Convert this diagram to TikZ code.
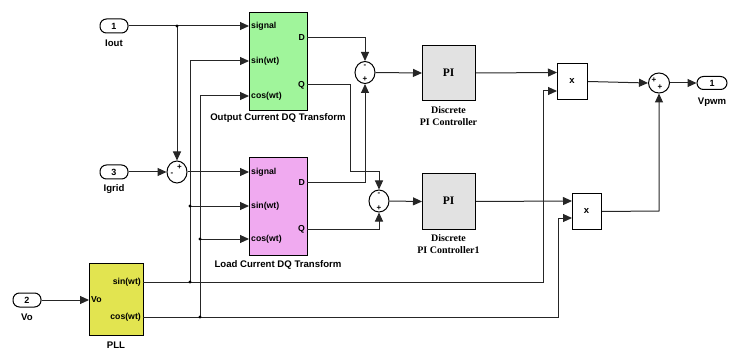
\documentclass[tikz,border=0pt]{standalone}
\usepackage{fontspec}
\setmainfont{Liberation Sans}
\newfontfamily\serifb{Liberation Serif}
\usetikzlibrary{arrows.meta,shapes.geometric,calc}
\definecolor{dqgreen}{RGB}{160,245,155}
\definecolor{dqpink}{RGB}{240,170,240}
\definecolor{pllyellow}{RGB}{226,228,80}
\definecolor{pigray}{RGB}{226,226,226}
\begin{document}
\begin{tikzpicture}[x=1pt,y=-1pt,
 wire/.style={line width=1pt, draw=black!85},
 arr/.style={wire,-{Triangle[length=9pt,width=8pt]}},
 blk/.style={draw, line width=1pt, anchor=north west, inner sep=0},
 port/.style={draw, line width=1pt, rounded corners=6.5pt, minimum width=28pt, minimum height=14pt, inner sep=0, font=\fontsize{9}{10}\selectfont\bfseries},
 sumb/.style={draw, line width=1pt, ellipse, minimum width=20pt, minimum height=22pt, inner sep=0},
 lbl/.style={font=\fontsize{8.7}{10}\selectfont\bfseries, inner sep=1pt},
 blbl/.style={font=\fontsize{9.6}{11}\selectfont\bfseries, inner sep=1pt},
 sgn/.style={font=\fontsize{8}{8}\selectfont\bfseries, inner sep=0},
 jdot/.style={circle, fill, inner sep=0, minimum size=3.2pt},
 pilbl/.style={font=\serifb\fontsize{10}{12.5}\selectfont\bfseries, align=center, inner sep=0}
]
\useasboundingbox (0,0) rectangle (734,350);

% inports / outport
\node[port] (in1) at (114,26) {1};
\node[blbl] (in1l) at (114,43) {Iout};
\node[port] (in3) at (114,172) {3};
\node[blbl] (in3l) at (114,189) {Igrid};
\node[port] (in2) at (27,300) {2};
\node[blbl] (in2l) at (27,317) {Vo};
\node[port, minimum width=30pt, minimum height=13pt] (out1) at (712,83) {1};
\node[blbl] (out1l) at (712,102) {Vpwm};

% DQ transforms
\node[blk, fill=dqgreen, minimum width=58pt, minimum height=98pt] (dq1) at (249,12) {};
\node[lbl, anchor=west] (dq1a) at (250,26) {signal};
\node[lbl, anchor=west] (dq1b) at (250,61) {sin(wt)};
\node[lbl, anchor=west] (dq1c) at (250,96) {cos(wt)};
\node[lbl, anchor=east] (dq1d) at (306,38) {D};
\node[lbl, anchor=east] (dq1e) at (306,85) {Q};
\node[blbl] (dq1l) at (278,118) {Output Current DQ Transform};

\node[blk, fill=dqpink, minimum width=58pt, minimum height=98pt] (dq2) at (249,157) {};
\node[lbl, anchor=west] (dq2a) at (250,172) {signal};
\node[lbl, anchor=west] (dq2b) at (250,206) {sin(wt)};
\node[lbl, anchor=west] (dq2c) at (250,239) {cos(wt)};
\node[lbl, anchor=east] (dq2d) at (306,183) {D};
\node[lbl, anchor=east] (dq2e) at (306,229) {Q};
\node[blbl] (dq2l) at (278,265) {Load Current DQ Transform};

% PLL
\node[blk, fill=pllyellow, minimum width=54pt, minimum height=72pt] (pll) at (89,263) {};
\node[lbl, anchor=west] (pllv) at (90,300) {Vo};
\node[lbl, anchor=east] (plls) at (142,282) {sin(wt)};
\node[lbl, anchor=east] (pllc) at (142,317) {cos(wt)};
\node[blbl] (plll) at (116,345) {PLL};

% PI controllers
\node[blk, fill=pigray, minimum width=53pt, minimum height=55pt] (pi1) at (422,45) {};
\node[font=\serifb\fontsize{11.5}{12}\selectfont\bfseries] (pi1t) at (448.5,72.5) {PI};
\node[pilbl] (pi1l) at (448.5,116) {Discrete\\PI Controller};
\node[blk, fill=pigray, minimum width=53pt, minimum height=56pt] (pi2) at (422,173) {};
\node[font=\serifb\fontsize{11.5}{12}\selectfont\bfseries] (pi2t) at (448.5,201) {PI};
\node[pilbl] (pi2l) at (448.5,244) {Discrete\\PI Controller1};

% products
\node[blk, fill=white, minimum width=30pt, minimum height=36pt] (pr1) at (557,63) {};
\node[font=\fontsize{9.5}{9}\selectfont\bfseries] (pr1t) at (572,81) {x};
\node[blk, fill=white, minimum width=29pt, minimum height=36pt] (pr2) at (572,193) {};
\node[font=\fontsize{9.5}{9}\selectfont\bfseries] (pr2t) at (586.5,211) {x};

% sums
\node[sumb] (s0) at (177,172) {};
\node[sgn] (s0a) at (172,174) {-};
\node[sgn] (s0b) at (179.5,167) {+};
\node[sumb] (s1) at (365,72.5) {};
\node[sgn] (s1a) at (365,66) {-};
\node[sgn] (s1b) at (365,79.5) {+};
\node[sumb] (s2) at (379,201) {};
\node[sgn] (s2a) at (379,194.5) {-};
\node[sgn] (s2b) at (379,208) {+};
\node[sumb, minimum width=21pt, minimum height=20pt] (s3) at (659,83) {};
\node[sgn] (s3a) at (654,80) {+};
\node[sgn] (s3b) at (660,87.5) {+};

% junction coordinates
\coordinate (j1) at (177,26);
\coordinate (j2) at (190,282);
\coordinate (j3) at (190,206);
\coordinate (j4) at (200,317);
\coordinate (j5) at (200,239);

% wires
\draw[arr] (in1.east) -- (249,26);
\draw[arr] (j1) -- (s0.north);
\draw[arr] (in3.east) -- (s0.west);
\draw[arr] (s0.east) -- (249,172);
\draw[arr] (in2.east) -- (89,300);

\draw[arr] (143,282) -- (543,282) -- (543,91) -- (557,91);
\draw[arr] (143,317) -- (558,317) -- (558,218) -- (572,218);
\draw[arr] (j2) -- (190,61) -- (249,61);
\draw[arr] (j3) -- (249,206);
\draw[arr] (j4) -- (200,96) -- (249,96);
\draw[arr] (j5) -- (249,239);

\draw[arr] (307,38) -- (365,38) -- (s1.north);
\draw[arr] (307,85) -- (350,85) -- (350,172) -- (379,172) -- (s2.north);
\draw[arr] (307,183) -- (365,183) -- (s1.south);
\draw[arr] (307,229) -- (379,229) -- (s2.south);

\draw[arr] (s1.east) -- (pi1.west);
\draw[arr] (s2.east) -- (pi2.west);
\draw[arr] (pi1.east) -- (557,72.5);
\draw[arr] (pi2.east) -- (572,201);
\draw[arr] (pr1.east) -- (s3.west);
\draw[arr] (pr2.east) -- (659,211) -- (s3.south);
\draw[arr] (s3.east) -- (out1.west);

\node[jdot] at (j1) {};
\node[jdot] at (j2) {};
\node[jdot] at (j3) {};
\node[jdot] at (j4) {};
\node[jdot] at (j5) {};
\end{tikzpicture}
\end{document}
